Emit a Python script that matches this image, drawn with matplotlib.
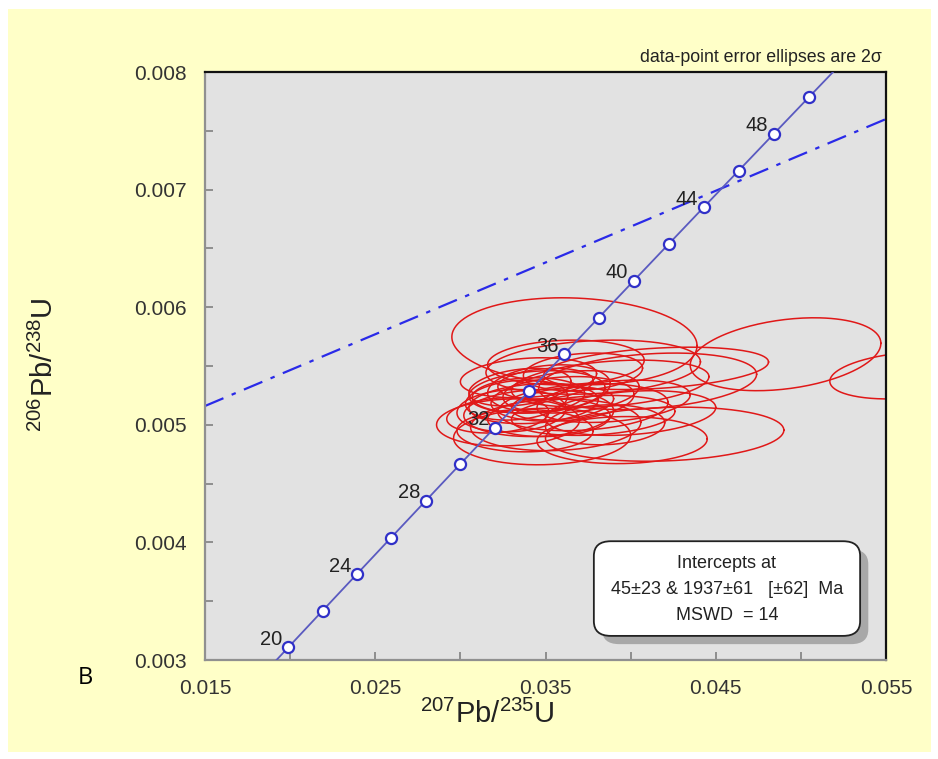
"""U-Pb concordia diagram with data-point error ellipses (Isoplot style)."""
import numpy as np
import matplotlib
matplotlib.use("Agg")
import matplotlib.pyplot as plt
from matplotlib.patches import Rectangle, FancyBboxPatch

plt.rcParams["font.family"] = ["Liberation Sans", "DejaVu Sans"]
plt.rcParams["mathtext.fontset"] = "custom"
plt.rcParams["mathtext.rm"] = "Liberation Sans"

# concordia age markers (Ma) and their ratios
ages = [20, 22, 24, 26, 28, 30, 32, 34, 36, 38, 40, 42, 44, 46, 48, 50]
conc_x = [0.019892, 0.021903, 0.023918, 0.025937, 0.027959, 0.029986, 0.032017, 0.034052,
          0.036091, 0.038133, 0.040180, 0.042231, 0.044286, 0.046345, 0.048408, 0.050475]
conc_y = [0.0031073, 0.0034186, 0.0037299, 0.0040414, 0.0043529, 0.0046646, 0.0049763, 0.0052882,
          0.0056001, 0.0059121, 0.0062243, 0.0065365, 0.0068488, 0.0071612, 0.0074737, 0.0077864]
label_ages = [20, 24, 28, 32, 36, 40, 44, 48]
# curve end points just outside the frame (18 and 52 Ma)
curve_x = [0.017885] + conc_x + [0.052546]
curve_y = [0.0027961] + conc_y + [0.0080990]

# discordia line end points
disc_x = [0.015, 0.055]
disc_y = [0.00516, 0.00760]

# error ellipses: centre, half-widths (2 sigma) and correlation
ell_cx = [0.0367, 0.0491, 0.0562, 0.0378, 0.0362, 0.0410, 0.0388, 0.0415, 0.0372,
          0.0345, 0.0340, 0.0352, 0.0333, 0.0360, 0.0372, 0.0330, 0.0346, 0.0378,
          0.0328, 0.0356, 0.0338, 0.0348, 0.0360, 0.0350, 0.0420, 0.0395, 0.0400,
          0.0390, 0.0385, 0.0340, 0.0335, 0.0343, 0.0365, 0.0322, 0.0352]
ell_cy = [0.00571, 0.00560, 0.00542, 0.00549, 0.00553, 0.00537, 0.00535, 0.00548, 0.00545,
          0.00528, 0.00525, 0.00531, 0.00521, 0.00522, 0.00515, 0.00512, 0.00510, 0.00508,
          0.00502, 0.00500, 0.00495, 0.00490, 0.00518, 0.00535, 0.00492, 0.00487, 0.00510,
          0.00520, 0.00500, 0.00540, 0.00532, 0.00518, 0.00528, 0.00508, 0.00506]
ell_a = [0.0072, 0.0056, 0.0045, 0.0063, 0.0046, 0.0064, 0.0058, 0.0066, 0.0035,
         0.0040, 0.0033, 0.0036, 0.0030, 0.0042, 0.0050, 0.0032, 0.0044, 0.0048,
         0.0042, 0.0050, 0.0040, 0.0052, 0.0030, 0.0028, 0.0070, 0.0050, 0.0050,
         0.0045, 0.0035, 0.0040, 0.0030, 0.0038, 0.0040, 0.0030, 0.0036]
ell_b = [0.00037, 0.00031, 0.00020, 0.00023, 0.00019, 0.00024, 0.00020, 0.00018, 0.00016,
         0.00018, 0.00015, 0.00020, 0.00017, 0.00019, 0.00020, 0.00018, 0.00020, 0.00017,
         0.00020, 0.00022, 0.00018, 0.00024, 0.00014, 0.00013, 0.00023, 0.00020, 0.00019,
         0.00018, 0.00017, 0.00017, 0.00016, 0.00017, 0.00018, 0.00015, 0.00016]
ell_rho = [-0.10, 0.30, 0.25, 0.20, 0.10, 0.25, 0.30, 0.30, 0.20,
           0.20, 0.10, 0.20, 0.20, 0.20, 0.20, 0.10, 0.10, 0.20,
           0.10, 0.10, 0.00, 0.05, 0.30, 0.20, 0.15, 0.05, 0.25,
           0.30, 0.10, 0.20, 0.30, 0.20, 0.25, 0.20, 0.10]

box_lines = ["Intercepts at", "45\u00b123 & 1937\u00b161   [\u00b162]  Ma", "MSWD  = 14"]

fig = plt.figure(figsize=(9.38, 7.59), dpi=100, facecolor="white")
fig.patches.append(Rectangle((8 / 938, 7 / 759), 923 / 938, 743 / 759, transform=fig.transFigure,
                             facecolor="#FFFFC8", edgecolor="none", zorder=-10))
ax = fig.add_axes([205 / 938, 1 - 660 / 759, 681 / 938, 588 / 759])
ax.set_facecolor("#E2E2E2")

t = np.linspace(0, 2 * np.pi, 200)
for cx, cy, a, b, r in zip(ell_cx, ell_cy, ell_a, ell_b, ell_rho):
    ex = cx + a * np.cos(t)
    ey = cy + b * (r * np.cos(t) + np.sqrt(1 - r * r) * np.sin(t))
    ax.plot(ex, ey, color="#E01818", lw=1.1, zorder=2)

ax.plot(disc_x, disc_y, color="#2a2ae8", lw=1.6, ls=(0, (9, 4, 2, 4)), zorder=2.5)
ax.plot(curve_x, curve_y, color="#5a5ac0", lw=1.3, zorder=3)
ax.plot(conc_x, conc_y, "o", ms=8, mfc="white", mec="#3030c8", mew=1.6, zorder=4)
for age, x, y in zip(ages, conc_x, conc_y):
    if age in label_ages:
        ax.annotate(str(age), (x, y), xytext=(-4, -1), textcoords="offset points",
                    ha="right", va="bottom", fontsize=14.5, color="#222222", zorder=5)

ax.set_xlim(0.015, 0.055)
ax.set_ylim(0.003, 0.008)
ax.set_xticks(np.arange(0.015, 0.0551, 0.005))
ax.set_xticklabels(["0.015", "", "0.025", "", "0.035", "", "0.045", "", "0.055"])
ax.set_yticks(np.arange(0.003, 0.00801, 0.0005))
ax.set_yticklabels(["0.003", "", "0.004", "", "0.005", "", "0.006", "", "0.007", "", "0.008"])
ax.tick_params(direction="in", length=6, width=1.2, color="#808080", labelsize=15,
               labelcolor="#333333")
ax.tick_params(axis="x", pad=14)
ax.tick_params(axis="y", pad=13)
for side in ["left", "bottom"]:
    ax.spines[side].set_color("#909090")
    ax.spines[side].set_linewidth(1.6)
for side in ["top", "right"]:
    ax.spines[side].set_color("#111111")
    ax.spines[side].set_linewidth(1.6)

ax.set_xlabel(r"$^{207}$Pb/$^{235}$U", fontsize=21, color="#222222")
ax.xaxis.set_label_coords(0.414, -0.068)
ax.set_ylabel(r"$^{206}$Pb/$^{238}$U", fontsize=21, color="#222222")
ax.yaxis.set_label_coords(-0.215, 0.502)

fig.text(882 / 938, 1 - 57 / 759, "data-point error ellipses are 2\u03c3", ha="right", va="center",
         fontsize=12.8, color="#222222")
fig.text(85 / 938, 1 - 678 / 759, "B", ha="center", va="center", fontsize=17, color="black",
         family=["Open Sans", "DejaVu Sans"])

# intercept box with drop shadow
bx0, by0, bw, bh = 0.571, 0.041, 0.391, 0.161
ax.add_patch(FancyBboxPatch((bx0 + 0.012, by0 - 0.014), bw, bh, transform=ax.transAxes,
                            boxstyle="round,pad=0,rounding_size=0.025", facecolor="#A8A8A8",
                            edgecolor="none", zorder=6, clip_on=False))
ax.add_patch(FancyBboxPatch((bx0, by0), bw, bh, transform=ax.transAxes,
                            boxstyle="round,pad=0,rounding_size=0.025", facecolor="white",
                            edgecolor="#222222", lw=1.3, zorder=7, clip_on=False))
for i, line in enumerate(box_lines):
    ax.text(bx0 + bw / 2, by0 + bh * (0.76 - 0.27 * i), line, transform=ax.transAxes,
            ha="center", va="center", fontsize=13, color="#222222", zorder=8)

fig.savefig("out.png", dpi=100, facecolor=fig.get_facecolor())
